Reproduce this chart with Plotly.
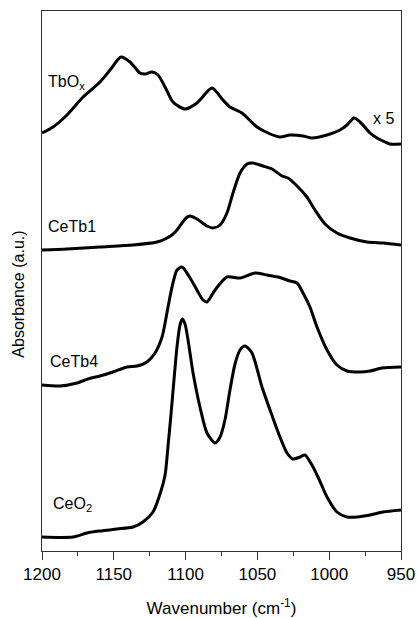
import plotly.graph_objects as go

# Wavenumber (cm-1) and stacked absorbance (a.u.)
tbox_wn = [1200, 1192.3, 1182.6, 1171.4, 1159.6, 1152.6, 1145.0, 1138.7, 1131.8, 1128.3,
           1123.4, 1119.2, 1114.3, 1108.8, 1100.4, 1092.1, 1081.6, 1074.0, 1069.1, 1060.7,
           1050.3, 1042.6, 1034.3, 1027.3, 1018.2, 1012.0, 1001.5, 992.5, 987.6, 982.7,
           978.5, 971.6, 966.7, 961.1, 957.7, 950]
tbox_ab = [4.18, 4.24, 4.36, 4.54, 4.69, 4.81, 4.94, 4.89, 4.78, 4.77,
           4.79, 4.76, 4.64, 4.49, 4.42, 4.48, 4.63, 4.51, 4.44, 4.38,
           4.24, 4.18, 4.14, 4.16, 4.15, 4.13, 4.16, 4.21, 4.26, 4.33,
           4.29, 4.18, 4.13, 4.09, 4.07, 4.07]

cetb1_wn = [1200, 1182.6, 1159.6, 1136.6, 1119.9, 1114.3, 1109.5, 1106.0, 1102.5, 1099.7,
            1096.9, 1092.1, 1085.1, 1080.9, 1076.0, 1071.2, 1067.0, 1062.1, 1057.2, 1053.1,
            1046.1, 1039.8, 1032.9, 1028.7, 1021.7, 1015.5, 1009.9, 1002.9, 994.6, 985.5,
            973.7, 962.5, 950]
cetb1_ab = [3.01, 3.02, 3.04, 3.06, 3.09, 3.12, 3.16, 3.21, 3.28, 3.33,
            3.35, 3.32, 3.25, 3.23, 3.26, 3.38, 3.58, 3.78, 3.87, 3.88,
            3.85, 3.82, 3.75, 3.73, 3.64, 3.54, 3.41, 3.27, 3.18, 3.13,
            3.09, 3.08, 3.06]

cetb4_wn = [1200, 1187.5, 1175.6, 1168.0, 1159.6, 1150.6, 1140.8, 1133.8, 1126.9, 1121.3,
            1116.4, 1113.0, 1110.9, 1108.8, 1106.0, 1102.5, 1096.9, 1092.1, 1087.9, 1085.1,
            1079.5, 1071.2, 1062.1, 1051.7, 1043.3, 1035.7, 1027.3, 1022.4, 1018.2, 1013.4,
            1008.5, 1001.5, 994.6, 987.6, 978.5, 971.6, 963.2, 950]
cetb4_ab = [1.66, 1.65, 1.68, 1.72, 1.75, 1.79, 1.84, 1.85, 1.89, 1.98,
            2.14, 2.38, 2.54, 2.68, 2.81, 2.84, 2.73, 2.61, 2.51, 2.49,
            2.61, 2.74, 2.73, 2.78, 2.76, 2.74, 2.70, 2.68, 2.58, 2.44,
            2.24, 2.01, 1.86, 1.80, 1.79, 1.80, 1.83, 1.84]

ceo2_wn = [1200, 1178.4, 1168.7, 1159.6, 1147.8, 1136.6, 1129.7, 1122.7, 1118.5, 1114.3,
           1112.3, 1110.2, 1108.1, 1106.0, 1103.9, 1102.2, 1100.4, 1098.3, 1094.8, 1090.0,
           1085.1, 1079.5, 1076.0, 1072.6, 1069.1, 1065.6, 1062.1, 1058.6, 1053.8, 1046.8,
           1041.2, 1034.3, 1029.4, 1025.2, 1020.3, 1016.9, 1012.0, 1007.8, 1001.5, 994.6,
           987.6, 980.6, 971.6, 962.5, 950]
ceo2_ab = [0.14, 0.14, 0.18, 0.20, 0.22, 0.24, 0.29, 0.39, 0.54, 0.76,
           1.04, 1.36, 1.71, 2.04, 2.26, 2.32, 2.27, 2.11, 1.78, 1.44,
           1.18, 1.08, 1.14, 1.31, 1.61, 1.87, 2.01, 2.05, 1.98, 1.64,
           1.41, 1.14, 0.98, 0.92, 0.94, 0.96, 0.86, 0.74, 0.54, 0.39,
           0.34, 0.34, 0.36, 0.39, 0.41]

series = [
    ("TbOx", tbox_wn, tbox_ab),
    ("CeTb1", cetb1_wn, cetb1_ab),
    ("CeTb4", cetb4_wn, cetb4_ab),
    ("CeO2", ceo2_wn, ceo2_ab),
]

labels = [
    ("TbO<sub>x</sub>", 1197, 4.69),
    ("CeTb1", 1197.5, 3.25),
    ("CeTb4", 1196, 1.90),
    ("CeO<sub>2</sub>", 1194, 0.47),
    ("x 5", 971, 4.33),
]

FONT = "Liberation Sans, Arial, sans-serif"

fig = go.Figure()
for name, wn, ab in series:
    fig.add_trace(go.Scatter(x=wn, y=ab, mode="lines", name=name,
                             line=dict(color="black", width=3, shape="spline", smoothing=0.7),
                             showlegend=False))

for text, x, y in labels:
    fig.add_annotation(x=x, y=y, text=text, showarrow=False, xanchor="left", yanchor="middle",
                       font=dict(family=FONT, size=16, color="black"))

# y-axis title (placed slightly below the axis centre, as in the reference)
fig.add_annotation(xref="paper", yref="paper", x=-0.065, y=0.476, text="Absorbance (a.u.)",
                   textangle=-90, showarrow=False, xanchor="center", yanchor="middle",
                   font=dict(family=FONT, size=16, color="black"))

fig.update_layout(
    width=417, height=618,
    margin=dict(l=42, r=16, t=11, b=67),
    paper_bgcolor="white", plot_bgcolor="white",
    font=dict(family=FONT, size=17, color="black"),
)
fig.update_xaxes(
    range=[1200, 950], dtick=50, tick0=1200, automargin=False,
    ticks="outside", ticklen=8, tickwidth=1, tickcolor="#333",
    minor=dict(dtick=25, ticks="outside", ticklen=4, tickcolor="#333", tickwidth=1),
    showline=True, linecolor="#333", linewidth=1, mirror=True,
    showgrid=False, zeroline=False,
    tickfont=dict(size=17),
    title=dict(text="Wavenumber (cm<sup>-1</sup>)", font=dict(size=17), standoff=22),
)
fig.update_yaxes(
    range=[0, 5.40], showticklabels=False, ticks="", automargin=False,
    showline=True, linecolor="#333", linewidth=1, mirror=True,
    showgrid=False, zeroline=False,
)

fig.write_html("out.html")
